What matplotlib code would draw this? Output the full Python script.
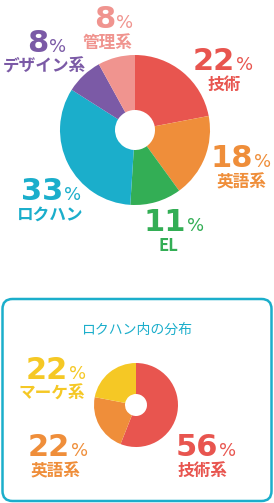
import matplotlib
matplotlib.use("Agg")
import matplotlib.pyplot as plt
from matplotlib.patches import FancyBboxPatch

W, H = 274, 503

# main distribution (clockwise from top)
MAIN_LABELS = ["技術", "英語系", "EL", "ロクハン", "デザイン系", "管理系"]
MAIN_VALUES = [22, 18, 11, 33, 8, 8]
MAIN_COLORS = ["#E8554F", "#EF8E3A", "#33AE55", "#1BAECB", "#7B5AA6", "#F0948F"]

# inner distribution of ロクハン
SUB_TITLE = "ロクハン内の分布"
SUB_LABELS = ["技術系", "英語系", "マーケ系"]
SUB_VALUES = [56, 22, 22]
SUB_COLORS = ["#E8554F", "#EF8E3A", "#F5C825"]

JP = ["Noto Sans CJK JP", "DejaVu Sans"]
TEAL = "#1BAECB"


def y(v):
    # image pixel row -> data y
    return H - v


def pct_label(ax, x, base, lx, value, label, color):
    # x: split between number and "%", base: baseline row, lx: label centre
    ax.text(x, y(base), str(value), ha="right", va="baseline", color=color,
            fontsize=22, fontweight="bold", family="DejaVu Sans")
    ax.text(x + 1, y(base), "%", ha="left", va="baseline", color=color,
            fontsize=13, family="DejaVu Sans")
    ax.text(lx, y(base + 15), label, ha="center", va="center", color=color,
            fontsize=12, fontweight="bold", family=JP)


def donut(ax, values, colors, cx, cy, r, hole):
    ax.pie(values, colors=colors, startangle=90, counterclock=False,
           center=(cx, y(cy)), radius=r,
           wedgeprops=dict(width=r - hole, linewidth=0))


fig = plt.figure(figsize=(W / 100, H / 100), dpi=100)
ax = fig.add_axes([0, 0, 1, 1])

donut(ax, MAIN_VALUES, MAIN_COLORS, 135, 130, 75, 20)
donut(ax, SUB_VALUES, SUB_COLORS, 136, 405, 42, 11)

ax.set_xlim(0, W)
ax.set_ylim(0, H)
ax.set_aspect("equal")
ax.axis("off")

main_pos = [(235, 70, 224), (253, 167, 241), (186, 231, 168),
            (63, 200, 50), (48, 52, 44), (115, 28, 108)]
for (px, pb, lx), val, lab, col in zip(main_pos, MAIN_VALUES, MAIN_LABELS, MAIN_COLORS):
    pct_label(ax, px, pb, lx, val, lab, col)

box = FancyBboxPatch((2.5, y(501)), W - 5, 202, boxstyle="round,pad=0,rounding_size=10",
                     facecolor="white", edgecolor=TEAL, linewidth=1.8, zorder=0)
ax.add_patch(box)
ax.text(137, y(330), SUB_TITLE, ha="center", va="center", color=TEAL,
        fontsize=10, family=JP)

sub_pos = [(218, 456, 202), (70, 456, 55), (68, 379, 52)]
for (px, pb, lx), val, lab, col in zip(sub_pos, SUB_VALUES, SUB_LABELS, SUB_COLORS):
    pct_label(ax, px, pb, lx, val, lab, col)

fig.savefig("out.png", dpi=100, facecolor="white")
